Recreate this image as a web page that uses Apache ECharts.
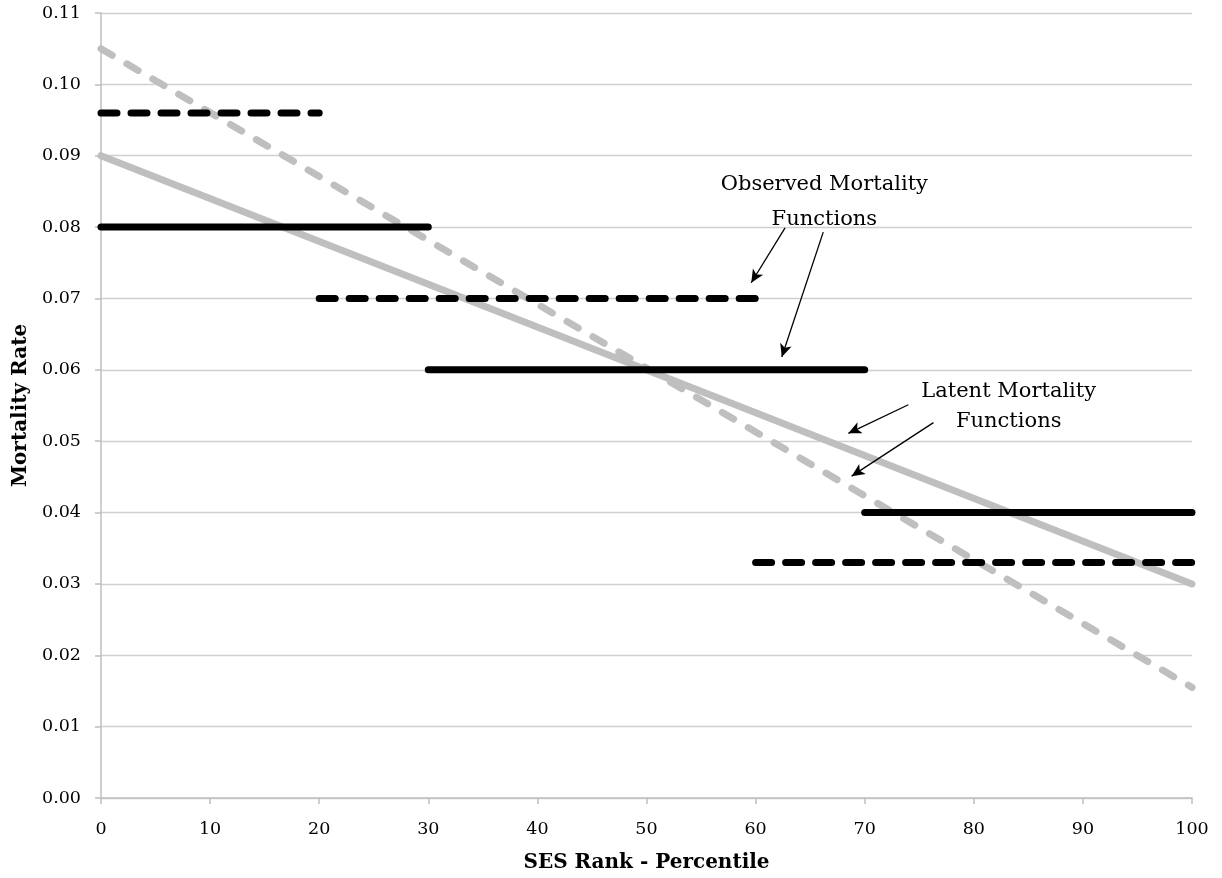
<!DOCTYPE html>
<html><head><meta charset="utf-8">
<script src="https://cdn.jsdelivr.net/npm/echarts@6/dist/echarts.min.js"></script>
<style>html,body{margin:0;padding:0;background:#fff}#c{width:1222px;height:878px}</style>
</head><body><div id="c"></div>
<script>
const xTicks = [0,10,20,30,40,50,60,70,80,90,100];
const latentSolid = [[0,0.09],[100,0.03]];
const latentDashed = [[0,0.105],[100,0.0155]];
const observedDashed = [[[0,0.096],[20,0.096]],[[20,0.07],[60,0.07]],[[60,0.033],[100,0.033]]];
const observedSolid = [[[0,0.08],[30,0.08]],[[30,0.06],[70,0.06]],[[70,0.04],[100,0.04]]];
const arrowsObserved = [[[62.7,0.0799],[59.6,0.0722]],[[66.2,0.0793],[62.4,0.0618]]];
const arrowsLatent = [[[74.0,0.0551],[68.5,0.0511]],[[76.3,0.0526],[68.8,0.0451]]];
const labelObserved = ['Observed Mortality','Functions'];
const labelLatent = ['Latent Mortality','Functions'];

const FONT = 'DejaVu Serif';
const series = [];
function seg(data, color, width, dashArr, z){
  series.push({type:'line', data:data, symbol:'none', silent:true, z:z,
    lineStyle:{color:color, width:width, type: dashArr ? dashArr : 'solid', cap:'round'}});
}
seg(latentSolid,'#bfbfbf',7,null,2);
seg(latentDashed,'#bfbfbf',7,[13,17],2);
observedDashed.forEach(d=>seg(d,'#000',7,[16,14],3));
observedSolid.forEach(d=>seg(d,'#000',7,null,3));
function arrows(list){
  series.push({type:'line', data:[], silent:true,
    markLine:{silent:true, symbol:['none','arrow'], symbolSize:[9,13], animation:false,
      lineStyle:{color:'#000', width:1.3, type:'solid'}, label:{show:false},
      data: list.map(a=>[{coord:a[0]},{coord:a[1]}])}});
}
arrows(arrowsObserved); arrows(arrowsLatent);

const chart = echarts.init(document.getElementById('c'));
chart.setOption({
  animation:false,
  grid:{left:101,right:30,top:13,bottom:80,containLabel:false,outerBoundsMode:'none'},
  xAxis:{type:'value',min:0,max:100,interval:10,
    name:'SES Rank - Percentile', nameLocation:'middle', nameGap:55,
    nameTextStyle:{fontFamily:FONT,fontWeight:'bold',fontSize:20,color:'#000'},
    axisLine:{lineStyle:{color:'#bfbfbf',width:1.5}},
    axisTick:{show:true,length:6,lineStyle:{color:'#bfbfbf',width:1.5}},
    splitLine:{show:false},
    axisLabel:{fontFamily:FONT,fontSize:17.5,color:'#000',margin:22,
      formatter:v=>xTicks.includes(v)?String(v):''}},
  yAxis:{type:'value',min:0,max:0.11,interval:0.01,
    name:'Mortality Rate', nameLocation:'middle', nameGap:68,
    nameTextStyle:{fontFamily:FONT,fontWeight:'bold',fontSize:20,color:'#000'},
    axisLine:{show:true,lineStyle:{color:'#bfbfbf',width:1.5}},
    axisTick:{show:true,length:6,lineStyle:{color:'#bfbfbf',width:1.5}},
    splitLine:{lineStyle:{color:'#d0d0d0',width:1.3}},
    axisLabel:{fontFamily:FONT,fontSize:17.5,color:'#000',margin:20,formatter:v=>v.toFixed(2)}},
  series:series
});
const p1 = chart.convertToPixel({gridIndex:0},[66.3,0.0835]);
const p2 = chart.convertToPixel({gridIndex:0},[83.2,0.0548]);
chart.setOption({graphic:[
  {type:'text',x:p1[0],y:p1[1],style:{text:labelObserved.join('\n'),fontFamily:FONT,fontSize:21,fill:'#000',align:'center',verticalAlign:'middle',lineHeight:35}},
  {type:'text',x:p2[0],y:p2[1],style:{text:labelLatent.join('\n'),fontFamily:FONT,fontSize:21,fill:'#000',align:'center',verticalAlign:'middle',lineHeight:30}}
]});
</script></body></html>
